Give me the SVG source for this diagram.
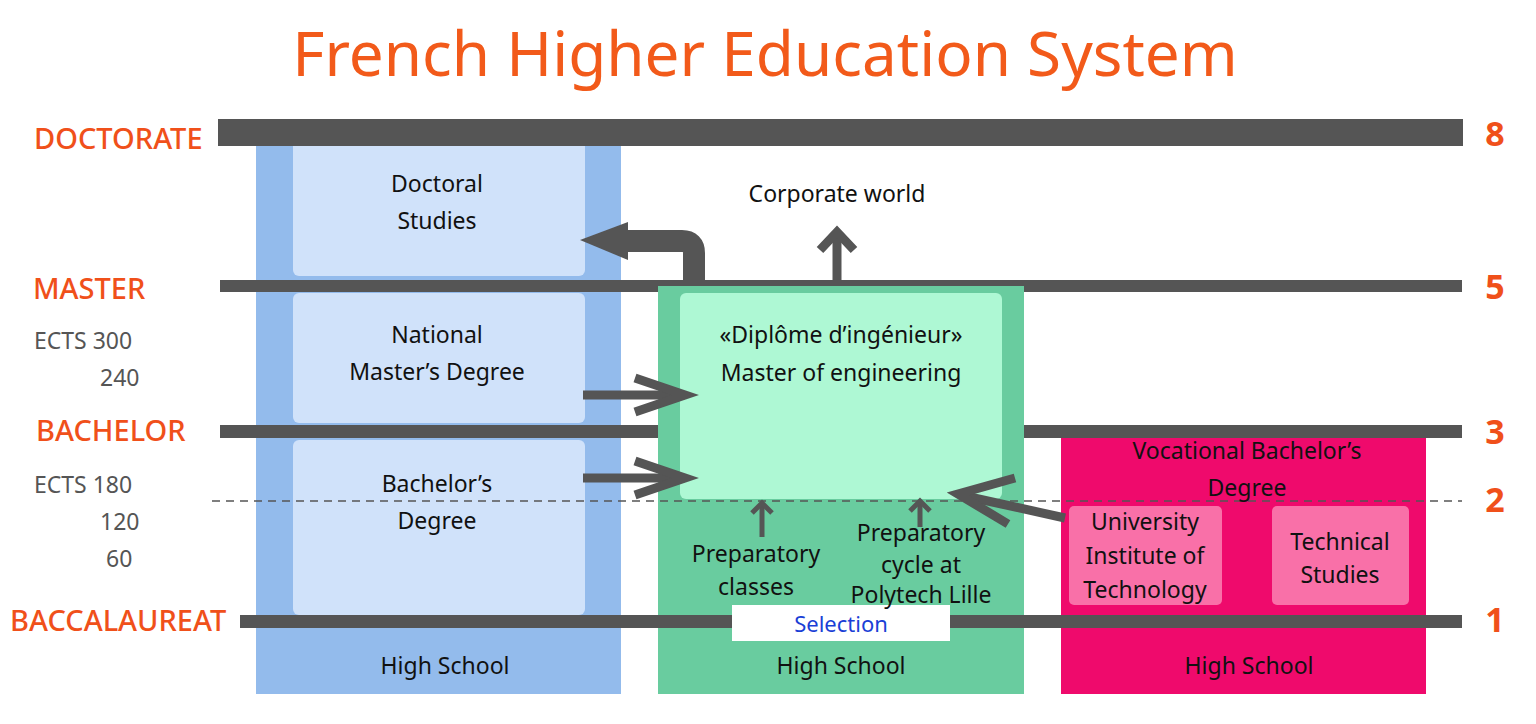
<svg xmlns="http://www.w3.org/2000/svg" width="1536" height="724" viewBox="0 0 1536 724">
<style>
text{font-family:"Noto Sans","DejaVu Sans",sans-serif;}
.t{font-size:23px;fill:#111;text-anchor:middle}
.lvl{font-size:29px;fill:#f0501a;font-weight:500}
.num{font-size:34px;fill:#f0501a;font-weight:bold;text-anchor:middle}
.ects{font-size:23px;fill:#555}
.bar{fill:#555}
.ar{stroke:#555;fill:none;stroke-linejoin:miter}
</style>
<rect width="1536" height="724" fill="#fff"/>
<text x="765" y="76" font-size="62" fill="#f25a1a" text-anchor="middle" style="font-family:'Noto Sans',sans-serif">French Higher Education System</text>
<g id="col-university">
<rect x="256" y="140" width="365" height="554" fill="#93bbec"/>
<rect x="293" y="140" width="292" height="136" rx="6" fill="#d0e2fa"/>
<rect x="293" y="293" width="292" height="130" rx="6" fill="#d0e2fa"/>
<rect x="293" y="440" width="292" height="175" rx="6" fill="#d0e2fa"/>
</g>
<g id="bars1">
<rect class="bar" x="218" y="119" width="1245" height="27"/>
<rect class="bar" x="220" y="280" width="1242" height="12"/>
<rect class="bar" x="220" y="425" width="1242" height="13"/>
</g>
<g id="col-engineering">
<rect x="658" y="286" width="366" height="408" fill="#69cc9f"/>
<rect x="680" y="293" width="322" height="206" rx="6" fill="#aef8d4"/>
</g>
<g id="col-vocational">
<rect x="1061" y="438" width="365" height="256" fill="#ef0a6c"/>
<rect x="1069" y="506" width="153" height="99" rx="5" fill="#f970a8"/>
<rect x="1272" y="506" width="137" height="99" rx="5" fill="#f970a8"/>
</g>
<line x1="212" y1="501" x2="1462" y2="501" stroke="#555" stroke-width="1.5" stroke-dasharray="8,6"/>
<rect class="bar" x="240" y="615" width="1222" height="13"/>
<g id="selection"><rect x="732" y="605" width="218" height="36" fill="#fff"/>
<text x="841" y="632" font-size="22" fill="#1a3fd6" text-anchor="middle">Selection</text></g>
<g id="levels">
<text class="lvl" x="34" y="149">DOCTORATE</text>
<text class="lvl" x="33" y="299">MASTER</text>
<text class="lvl" x="36" y="441">BACHELOR</text>
<text class="lvl" x="10" y="631">BACCALAUREAT</text>
<text class="ects" x="34" y="349">ECTS 300</text>
<text class="ects" x="100" y="386">240</text>
<text class="ects" x="34" y="493">ECTS 180</text>
<text class="ects" x="100" y="530">120</text>
<text class="ects" x="106" y="567">60</text>
<text class="num" x="1495" y="146">8</text>
<text class="num" x="1495" y="299">5</text>
<text class="num" x="1495" y="444">3</text>
<text class="num" x="1495" y="512">2</text>
<text class="num" x="1495" y="632">1</text>
</g>
<g id="labels">
<text class="t" x="437" y="192">Doctoral</text><text class="t" x="437" y="229">Studies</text>
<text class="t" x="437" y="343">National</text><text class="t" x="437" y="380">Master’s Degree</text>
<text class="t" x="437" y="492">Bachelor’s</text><text class="t" x="437" y="529">Degree</text>
<text class="t" x="837" y="202">Corporate world</text>
<text class="t" x="841" y="343">«Diplôme d’ingénieur»</text><text class="t" x="841" y="381">Master of engineering</text>
<text class="t" x="756" y="562">Preparatory</text><text class="t" x="756" y="595">classes</text>
<text class="t" x="921" y="541">Preparatory</text><text class="t" x="921" y="573">cycle at</text><text class="t" x="921" y="603">Polytech Lille</text>
<text class="t" x="1247" y="459">Vocational Bachelor’s</text><text class="t" x="1247" y="496">Degree</text>
<text class="t" x="1145" y="530">University</text><text class="t" x="1145" y="564">Institute of</text><text class="t" x="1145" y="598">Technology</text>
<text class="t" x="1340" y="550">Technical</text><text class="t" x="1340" y="583">Studies</text>
<text class="t" x="445" y="674">High School</text>
<text class="t" x="841" y="674">High School</text>
<text class="t" x="1249" y="674">High School</text>
</g>
<g id="connectors">
<path class="ar" d="M694 280 V253 Q694 241 682 241 H620" stroke-width="22"/>
<polygon points="580,240 628,222 628,260" fill="#555"/>
<path class="ar" d="M837 280 V236" stroke-width="9"/>
<path class="ar" d="M820 250 L837 232 L854 250" stroke-width="9"/>
<path class="ar" d="M583 395 H680" stroke-width="9"/>
<path class="ar" d="M635 378 L685 395 L635 412" stroke-width="9"/>
<path class="ar" d="M583 478 H680" stroke-width="9"/>
<path class="ar" d="M635 461 L685 478 L635 495" stroke-width="9"/>
<path class="ar" d="M762 537 V505" stroke-width="5"/>
<path class="ar" d="M752 513 L762 503 L772 513" stroke-width="5"/>
<path class="ar" d="M920 527 V503" stroke-width="5"/>
<path class="ar" d="M910 511 L920 501 L930 511" stroke-width="5"/>
<path class="ar" d="M1065 518 L965 496" stroke-width="9"/>
<path class="ar" d="M1015 478 L958 494 L1008 524" stroke-width="9"/>
</g>
</svg>
